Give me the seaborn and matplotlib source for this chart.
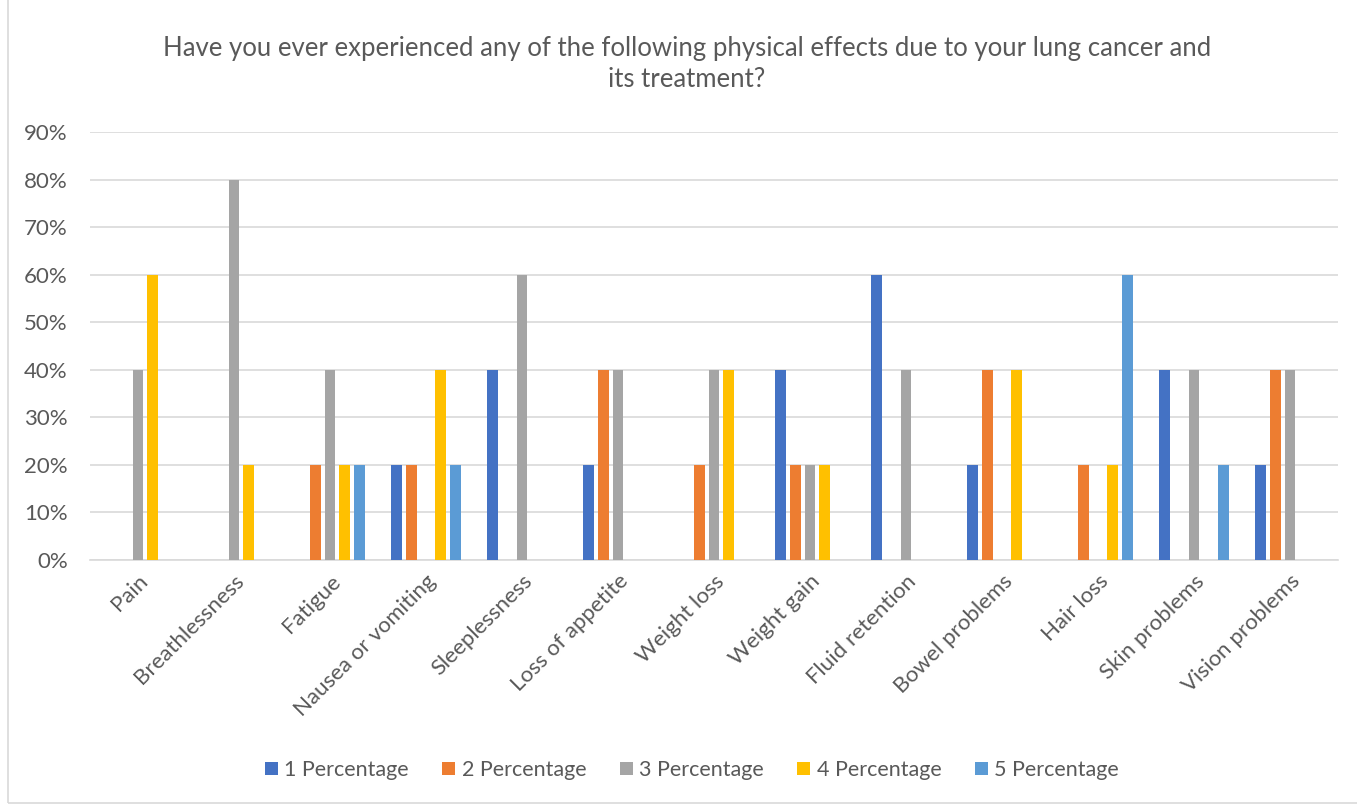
import matplotlib
matplotlib.use("Agg")
import matplotlib.pyplot as plt
from matplotlib.patches import Rectangle
import seaborn as sns
import pandas as pd

categories = ["Pain", "Breathlessness", "Fatigue", "Nausea or vomiting", "Sleeplessness",
              "Loss of appetite", "Weight loss", "Weight gain", "Fluid retention",
              "Bowel problems", "Hair loss", "Skin problems", "Vision problems"]
series_names = ["1 Percentage", "2 Percentage", "3 Percentage", "4 Percentage", "5 Percentage"]
pct1 = [0.0, 0.0, 0.0, 0.2, 0.4, 0.2, 0.0, 0.4, 0.6, 0.2, 0.0, 0.4, 0.2]
pct2 = [0.0, 0.0, 0.2, 0.2, 0.0, 0.4, 0.2, 0.2, 0.0, 0.4, 0.2, 0.0, 0.4]
pct3 = [0.4, 0.8, 0.4, 0.0, 0.6, 0.4, 0.4, 0.2, 0.4, 0.0, 0.0, 0.4, 0.4]
pct4 = [0.6, 0.2, 0.2, 0.4, 0.0, 0.0, 0.4, 0.2, 0.0, 0.4, 0.2, 0.0, 0.0]
pct5 = [0.0, 0.0, 0.2, 0.2, 0.0, 0.0, 0.0, 0.0, 0.0, 0.0, 0.6, 0.2, 0.0]
colors = ["#4472C4", "#ED7D31", "#A5A5A5", "#FFC000", "#5B9BD5"]
title = "Have you ever experienced any of the following physical effects due to your lung cancer and\nits treatment?"

rows = []
for name, vals in zip(series_names, [pct1, pct2, pct3, pct4, pct5]):
    for cat, v in zip(categories, vals):
        rows.append({"category": cat, "series": name, "value": v})
df = pd.DataFrame(rows)

sns.set_theme(style="white")
plt.rcParams["font.family"] = ["Lato", "DejaVu Sans"]
text_color = "#595959"

fig = plt.figure(figsize=(13.57, 8.05), dpi=100)
ax = fig.add_axes([90 / 1357, 245 / 805, (1338 - 90) / 1357, (560 - 132) / 805])

sns.barplot(data=df, x="category", y="value", hue="series", order=categories,
            hue_order=series_names, palette=colors, saturation=1, width=0.76, gap=0.25,
            linewidth=0, errorbar=None, ax=ax, zorder=3)

ax.set_ylim(0, 0.9)
ax.set_xlim(-0.5, len(categories) - 0.5)
ax.set_yticks([i / 10 for i in range(10)])
ax.set_yticklabels([f"{i * 10}%" for i in range(10)], color=text_color, fontsize=16)
ax.yaxis.grid(True, color="#D9D9D9", linewidth=1.2, zorder=0)
ax.set_axisbelow(True)
ax.tick_params(axis="y", length=0, pad=16)
ax.tick_params(axis="x", length=0, pad=8)
for lbl in ax.get_xticklabels():
    lbl.set_rotation(45)
    lbl.set_ha("right")
    lbl.set_rotation_mode("anchor")
    lbl.set_color(text_color)
    lbl.set_fontsize(16)
for side in ["top", "right", "left"]:
    ax.spines[side].set_visible(False)
ax.spines["bottom"].set_color("#D9D9D9")
ax.spines["bottom"].set_linewidth(1.2)
ax.set_xlabel("")
ax.set_ylabel("")

handles, labels = ax.get_legend_handles_labels()
ax.legend_.remove()
fig.legend(handles, labels, loc="center", bbox_to_anchor=(692 / 1357, 1 - 770 / 805),
           ncol=5, frameon=False, fontsize=15.5, labelcolor=text_color,
           handlelength=0.6, handleheight=0.6, handletextpad=0.3, columnspacing=1.55)

fig.text(687 / 1357, 1 - 64 / 805, title, ha="center", va="center",
         fontsize=18.5, color=text_color, linespacing=1.3)

fig.patches.append(Rectangle((8 / 1357, 2 / 805), 1.0, 1.0, transform=fig.transFigure,
                             fill=False, edgecolor="#D9D9D9", linewidth=1.2))

fig.savefig("out.png", dpi=100, facecolor="white")
